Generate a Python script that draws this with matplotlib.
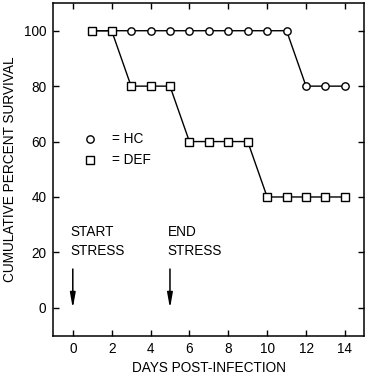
import numpy as np
import matplotlib
matplotlib.use("Agg")
import matplotlib.pyplot as plt

plt.rcParams["font.family"] = ["Liberation Sans", "DejaVu Sans"]

# survival data
days = [1, 2, 3, 4, 5, 6, 7, 8, 9, 10, 11, 12, 13, 14]
hc = [100, 100, 100, 100, 100, 100, 100, 100, 100, 100, 100, 80, 80, 80]
defi = [100, 100, 80, 80, 80, 60, 60, 60, 60, 40, 40, 40, 40, 40]
x_ticks = [0, 2, 4, 6, 8, 10, 12, 14]
y_ticks = [0, 20, 40, 60, 80, 100]

fig = plt.figure(figsize=(3.68, 3.77), dpi=100)
ax = fig.add_axes([0.145, 0.11, 0.845, 0.882])

mk = dict(color="black", lw=1.0, markerfacecolor="white",
          markeredgecolor="black", markeredgewidth=1.0, markersize=5.3)
ax.plot(days, hc, marker="o", **mk)
ax.plot(days, defi, marker="s", **mk)

# legend drawn as text like the original
ax.plot([0.86], [61], marker="o", **mk)
ax.plot([0.86], [53.5], marker="s", **mk)
ax.text(2.0, 61, "= HC", fontsize=9.8, va="center", ha="left")
ax.text(2.0, 53.5, "= DEF", fontsize=9.8, va="center", ha="left")

# stress annotations
for x0, label in [(0, "START\nSTRESS"), (5, "END\nSTRESS")]:
    ax.annotate("", xy=(x0, -1.2), xytext=(x0, 15),
                arrowprops=dict(arrowstyle="-|>,head_length=0.9,head_width=0.16",
                                color="black", lw=1.1, mutation_scale=10))
    ax.text(x0 - 0.12, 24, label, fontsize=9.8, ha="left", va="center",
            linespacing=1.45)

ax.set_xlim(-1, 15)
ax.set_ylim(-10, 110)
ax.set_xticks(x_ticks)
ax.set_yticks(y_ticks)
ax.tick_params(direction="in", top=True, right=True, length=4, width=1.0,
               labelsize=9.8, pad=5)
for s in ax.spines.values():
    s.set_linewidth(1.1)
ax.set_xlabel("DAYS POST-INFECTION", fontsize=9.8, labelpad=3)
ax.set_ylabel("CUMULATIVE PERCENT SURVIVAL", fontsize=9.8, labelpad=5)

fig.savefig("out.png", dpi=100)
